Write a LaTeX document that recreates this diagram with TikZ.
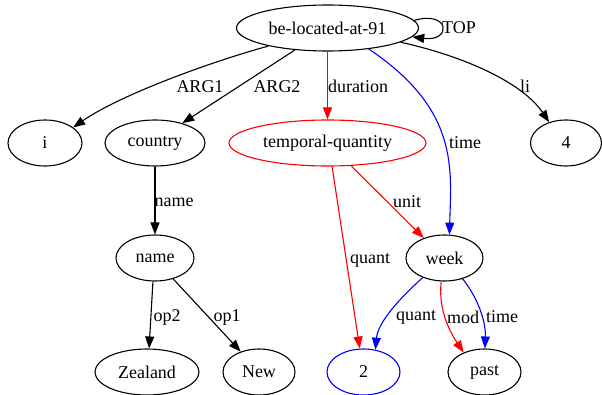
\documentclass[tikz,border=0pt]{standalone}
\usepackage{fontspec}
\setmainfont{Liberation Serif}
\usetikzlibrary{arrows.meta,shapes.geometric}
\tikzset{
  ell/.style={draw=black, ellipse, line width=1.1pt, inner sep=0pt, minimum height=46pt,
              font=\fontsize{18}{20}\selectfont},
  lbl/.style={inner sep=0pt, font=\fontsize{18}{20}\selectfont},
  edge/.style={line width=1.1pt, -{Triangle[length=12pt,width=9pt]}},
}
\begin{document}
\begin{tikzpicture}[x=1pt,y=-1pt]
\useasboundingbox (0,0) rectangle (602,395);
% nodes
\node[ell, minimum width=182pt] (top) at (327.5,28) {be-located-at-91};
\node[ell, minimum width=74pt] (i) at (45,143) {i};
\node[ell, minimum width=100pt] (country) at (155,143) {country};
\node[ell, draw=red, minimum width=197pt] (tq) at (327.5,143) {temporal-quantity};
\node[ell, minimum width=71pt] (four) at (566,143) {4};
\node[ell, minimum width=78pt] (name) at (155,258) {name};
\node[ell, minimum width=77pt] (week) at (444.5,258) {week};
\node[ell, minimum width=104pt] (zeal) at (147,372) {Zealand};
\node[ell, minimum width=72pt] (new) at (259,372) {New};
\node[ell, draw=blue, minimum width=73pt] (two) at (363.5,372) {2};
\node[ell, minimum width=73pt] (past) at (484.5,372) {past};
% edges
\draw[edge] (top.5) .. controls (450,10) and (452,42) .. (top.-6);
\draw[edge] (top.197) .. controls (210,62) and (120,95) .. (i.29);
\draw[edge] (top.214) -- (country.36);
\draw[edge, red] (top) -- (tq);
\draw[edge, blue] (top.-27) .. controls (460,110) and (451,170) .. (week.78);
\draw[edge] (top.-11) .. controls (463,56) and (522,82) .. (four.129);
\draw[edge] (country) -- (name);
\draw[edge] (name.-95) -- (zeal.85);
\draw[edge] (name.-49) -- (new.132);
\draw[edge, red] (tq.-79) -- (two.99);
\draw[edge, red] (tq.-44) -- (week.136);
\draw[edge, blue] (week.222) .. controls (400,298) and (378,322) .. (two.62);
\draw[edge, red] (week.262) .. controls (438,310) and (450,332) .. (past.137);
\draw[edge, blue] (week.-49) .. controls (478,298) and (486,322) .. (past.89);
% labels
\node[lbl] (lTOP) at (459,28) {TOP};
\node[lbl] (lARG1) at (200,87) {ARG1};
\node[lbl] (lARG2) at (277,87) {ARG2};
\node[lbl] (ldur) at (358,86) {duration};
\node[lbl] (lli) at (525,86) {li};
\node[lbl] (ltime) at (465,143) {time};
\node[lbl] (lname) at (174,202) {name};
\node[lbl] (lunit) at (407,202) {unit};
\node[lbl] (lquant) at (370,260) {quant};
\node[lbl] (lop2) at (167,317) {op2};
\node[lbl] (lop1) at (227,317) {op1};
\node[lbl] (lquant2) at (416,317) {quant};
\node[lbl] (lmod) at (463,317) {mod};
\node[lbl] (ltime2) at (502,317) {time};
\end{tikzpicture}
\end{document}
